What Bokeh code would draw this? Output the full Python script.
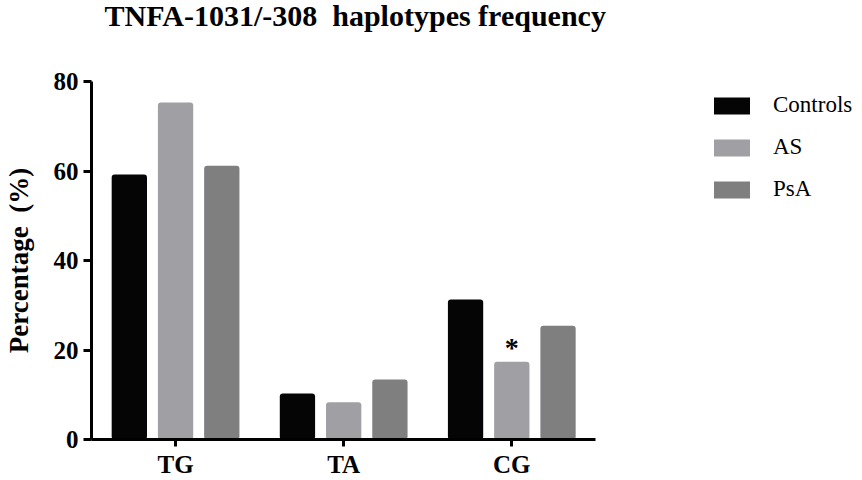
from bokeh.plotting import figure
from bokeh.models import Range1d, FixedTicker, Legend, LegendItem, ColumnDataSource
from bokeh.core.properties import value
from bokeh.embed import file_html
from bokeh.resources import INLINE

title_text = "TNFA-1031/-308\u00a0 haplotypes frequency"
y_label = "Percentage\u00a0 (%)"
categories = ["TG", "TA", "CG"]
groups = ["Controls", "AS", "PsA"]
controls = [59.2, 10.3, 31.3]
as_vals = [75.3, 8.3, 17.4]
psa = [61.2, 13.4, 25.4]
colors = ["#050505", "#a0a0a4", "#7f7f7f"]
y_ticks = [0, 20, 40, 60, 80]
sig_category = "CG"
sig_group = "AS"
sig_mark = "*"

FONT = "Liberation Serif"
series = {"Controls": controls, "AS": as_vals, "PsA": psa}

# category slots: each category occupies one unit; extra room on the right holds the legend
n = len(categories)
centers = [i + 0.5 for i in range(n)]
x_end = n + 267 / 505 * n

p = figure(width=862, height=480,
           x_range=Range1d(0, x_end),
           y_range=Range1d(0, 80),
           output_backend="svg", toolbar_location=None,
           min_border_left=90, min_border_right=0,
           min_border_top=81, min_border_bottom=40)

p.title.text = title_text
p.title.text_font = FONT
p.title.text_font_style = "bold"
p.title.text_font_size = "30px"
p.title.text_color = "#000000"
p.title.align = "left"
p.title.vertical_align = "top"
p.title.offset = 13
p.title.standoff = -166

offsets = [-0.275, 0.0, 0.275]
renderers = []
for g, off, c in zip(groups, offsets, colors):
    src = ColumnDataSource(dict(x=[cx + off for cx in centers], top=series[g]))
    r = p.vbar(x="x", top="top", width=0.21, source=src,
               fill_color=c, line_color=None, border_radius=3)
    renderers.append(r)

legend = Legend(items=[LegendItem(label=g, renderers=[r]) for g, r in zip(groups, renderers)],
                location=(618, 237), padding=0, margin=0, spacing=16,
                glyph_width=45, glyph_height=21, label_height=21, label_standoff=19,
                label_text_font=FONT, label_text_font_size="23px", label_text_color="#000000",
                border_line_color=None, background_fill_alpha=0)
p.add_layout(legend)

# significance mark
sig_idx = categories.index(sig_category)
sig_off = offsets[groups.index(sig_group)]
sig_val = series[sig_group][sig_idx]
p.text(x="x", y="y", text="t",
       source=ColumnDataSource(dict(x=[centers[sig_idx] + sig_off], y=[sig_val], t=[sig_mark])),
       text_font=value(FONT), text_font_style="bold", text_font_size="28px",
       text_align="center", text_baseline="middle", y_offset=-14, text_color="#000000")

p.xgrid.visible = False
p.ygrid.visible = False
p.outline_line_color = None

for ax in (p.xaxis[0], p.yaxis[0]):
    ax.axis_line_width = 3
    ax.axis_line_color = "#000000"
    ax.major_tick_line_width = 3
    ax.major_tick_line_color = "#000000"
    ax.major_tick_in = 0
    ax.minor_tick_out = 0
    ax.minor_tick_in = 0
    ax.major_label_text_font = FONT
    ax.major_label_text_font_style = "bold"
    ax.major_label_text_color = "#000000"

p.yaxis.ticker = FixedTicker(ticks=y_ticks)
p.yaxis.major_tick_out = 8
p.yaxis.major_label_text_font_size = "25px"
p.yaxis.major_label_standoff = 5
p.yaxis.axis_label = y_label
p.yaxis.axis_label_text_font = FONT
p.yaxis.axis_label_text_font_style = "bold"
p.yaxis.axis_label_text_font_size = "27px"
p.yaxis.axis_label_text_color = "#000000"
p.yaxis.axis_label_standoff = 17

p.xaxis.bounds = (0, n)
p.xaxis.ticker = FixedTicker(ticks=centers)
p.xaxis.major_label_overrides = {cx: cat for cx, cat in zip(centers, categories)}
p.xaxis.major_tick_out = 7
p.xaxis.major_label_text_font_size = "25px"
p.xaxis.major_label_standoff = 4

open("out.html", "w").write(file_html(p, INLINE))
